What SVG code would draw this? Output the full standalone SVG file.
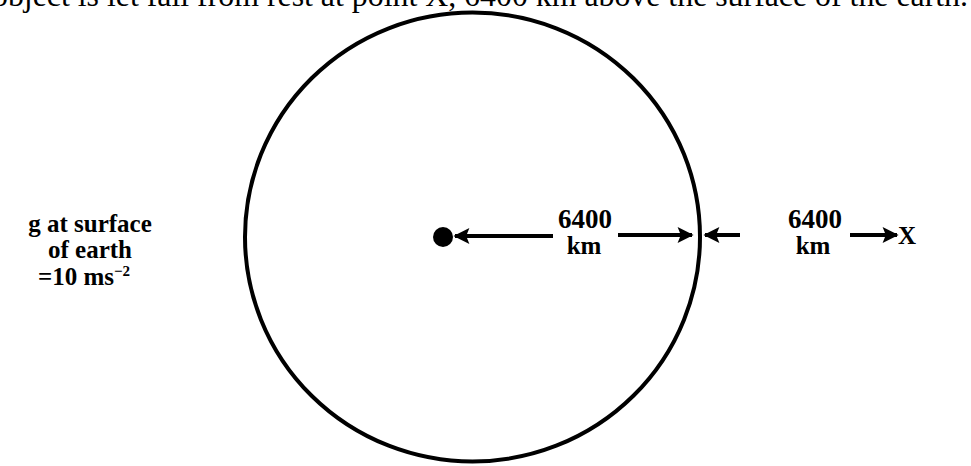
<svg xmlns="http://www.w3.org/2000/svg" width="971" height="466" viewBox="0 0 971 466">
<style>
.title{font-family:"Liberation Serif","Times New Roman",serif;font-size:31px;fill:#000}
.lbl{font-family:"Liberation Serif","Times New Roman",serif;font-size:25px;font-weight:bold;fill:#000;text-anchor:middle}
.num{font-size:27px}
.conn{stroke:#000;stroke-width:4;fill:none;marker-end:url(#ah)}
</style>
<defs>
<marker id="ah" viewBox="0 0 10 10" refX="9" refY="5" markerWidth="4.5" markerHeight="4" orient="auto" markerUnits="strokeWidth">
<path d="M0,0 L10,5 L0,10 L2,5 Z" fill="#000"/>
</marker>
</defs>
<rect width="971" height="466" fill="#fff"/>
<text class="title" x="-8" y="6" textLength="976" lengthAdjust="spacingAndGlyphs">object is let fall from rest at point X, 6400 km above the surface of the earth.</text>
<g id="earth">
<ellipse cx="472.5" cy="237" rx="227.5" ry="224.5" fill="none" stroke="#000" stroke-width="4"/>
</g>
<g id="centre">
<circle cx="443" cy="237" r="10" fill="#000"/>
</g>
<g id="g-label">
<text class="lbl" x="90" y="232">g at surface</text>
<text class="lbl" x="90" y="258">of earth</text>
<text class="lbl" x="84" y="285">=10 ms<tspan dy="-9" font-size="15">−2</tspan></text>
</g>
<g id="label-radius">
<text class="lbl num" x="585" y="228">6400</text>
<text class="lbl" x="584" y="254">km</text>
</g>
<g id="label-height">
<text class="lbl num" x="815" y="228">6400</text>
<text class="lbl" x="813" y="254">km</text>
</g>
<g id="point-X">
<text class="lbl" x="907" y="244">X</text>
</g>
<g id="connectors">
<line class="conn" x1="553" y1="236" x2="455" y2="236"/>
<line class="conn" x1="618" y1="235" x2="692" y2="235"/>
<line class="conn" x1="740" y1="235" x2="705" y2="235"/>
<line class="conn" x1="850" y1="235" x2="897" y2="235"/>
</g>
</svg>
